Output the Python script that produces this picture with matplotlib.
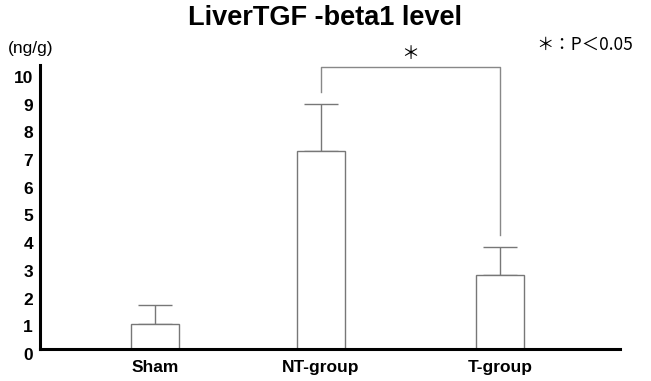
import matplotlib
matplotlib.use("Agg")
import matplotlib.pyplot as plt
from matplotlib.transforms import ScaledTranslation

groups = ["Sham", "NT-group", "T-group"]
positions = [1.15, 2.81, 4.60]
means = [0.90, 7.13, 2.67]
sd = [0.68, 1.70, 1.01]
yticks = list(range(0, 11))

# significance bracket between NT and T
sig_pair = (1, 2)
sig_top = 10.16
sig_legs = [9.26, 4.10]

plt.rcParams["font.family"] = ["Liberation Sans", "DejaVu Sans"]

fig = plt.figure(figsize=(6.51, 3.81), dpi=100)
ax = fig.add_axes([40 / 651, 1 - 349 / 381, 580 / 651, 284 / 381])

ax.bar(positions, means, width=0.48, color="white", edgecolor="#777777", linewidth=1.0, zorder=2)
ax.errorbar(positions, means, yerr=[[0] * len(sd), sd], fmt="none", ecolor="#777777",
            elinewidth=1.0, capsize=12.2, capthick=1.0, zorder=1)

x1, x2 = positions[sig_pair[0]], positions[sig_pair[1]]
ax.plot([x1, x1, x2, x2], [sig_legs[0], sig_top, sig_top, sig_legs[1]],
        color="#888888", lw=1.0, clip_on=False)
ax.text((x1 + x2) / 2, sig_top + 0.15, "＊", ha="center", va="bottom", fontsize=13,
        family=["Noto Sans CJK JP", "DejaVu Sans"])

ax.set_xlim(0, 5.8)
ax.set_ylim(0, 10.25)
ax.set_yticks(yticks)
ax.set_yticklabels([str(v) for v in yticks], fontsize=12.5, fontweight="bold")
ax.set_xticks(positions)
ax.set_xticklabels(groups, fontsize=12.5, fontweight="bold")
ax.tick_params(length=0)
ax.tick_params(axis="x", pad=8)
ax.tick_params(axis="y", pad=5)
shift = ScaledTranslation(0, -5 / 100, fig.dpi_scale_trans)
for lab in ax.get_yticklabels():
    lab.set_transform(lab.get_transform() + shift)

for side in ["top", "right"]:
    ax.spines[side].set_visible(False)
for side in ["left", "bottom"]:
    ax.spines[side].set_linewidth(2.2)

fig.text(0.5, 1 - 18 / 381, "LiverTGF -beta1 level", ha="center", va="center",
         fontsize=19.5, fontweight="bold")
fig.text(8 / 651, 1 - 48 / 381, "(ng/g)", ha="left", va="center", fontsize=12.5)
fig.text(633 / 651, 1 - 45 / 381, "＊：P＜0.05", ha="right", va="center", fontsize=12.5,
         family=["Noto Sans CJK JP", "DejaVu Sans"])

fig.savefig("out.png", dpi=100)
